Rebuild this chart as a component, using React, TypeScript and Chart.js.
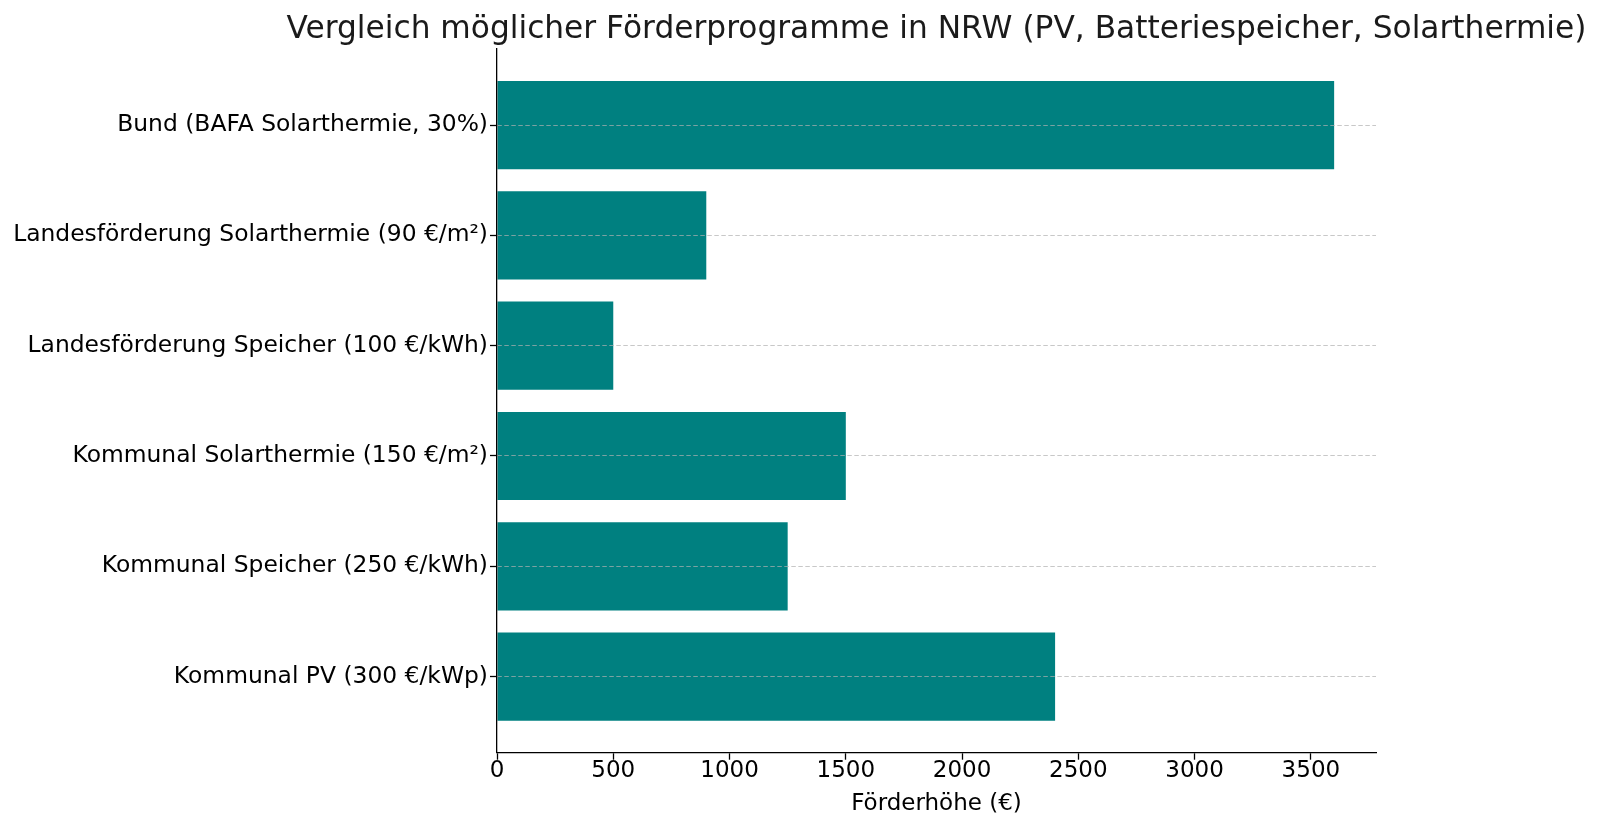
import { useEffect, useRef } from 'react';
import { Chart, registerables } from 'chart.js';

Chart.register(...registerables);

const chartTitle = 'Vergleich möglicher Förderprogramme in NRW (PV, Batteriespeicher, Solarthermie)';
const xAxisTitle = 'Förderhöhe (€)';
const categories = [
  'Bund (BAFA Solarthermie, 30%)',
  'Landesförderung Solarthermie (90 €/m²)',
  'Landesförderung Speicher (100 €/kWh)',
  'Kommunal Solarthermie (150 €/m²)',
  'Kommunal Speicher (250 €/kWh)',
  'Kommunal PV (300 €/kWp)',
];
const amounts = [3600, 900, 500, 1500, 1250, 2400];
const xTicks = [0, 500, 1000, 1500, 2000, 2500, 3000, 3500];
const xMax = 3780;

const FONT = 'DejaVu Sans';

export default function App() {
  const ref = useRef<HTMLCanvasElement>(null);

  useEffect(() => {
    document.body.style.margin = '0';
    Chart.defaults.font.family = FONT;
    const pad = 0.4 + 0.05 * (categories.length - 1 + 0.8);

    const titlePlugin = {
      id: 'mplTitle',
      afterDraw(chart: any) {
        const { ctx, chartArea } = chart;
        ctx.save();
        ctx.font = `31.25px "${FONT}"`;
        ctx.fillStyle = '#1a1a1a';
        ctx.textAlign = 'center';
        ctx.textBaseline = 'alphabetic';
        ctx.fillText(chartTitle, (chartArea.left + chartArea.right) / 2, 38);
        ctx.restore();
      },
    };

    const chart = new Chart(ref.current!, {
      type: 'bar',
      data: {
        datasets: [
          {
            data: amounts.map((v, i) => ({ x: v, y: i })),
            backgroundColor: '#008080',
            borderWidth: 0,
            categoryPercentage: 1,
            barPercentage: 0.8,
          },
        ],
      },
      plugins: [titlePlugin],
      options: {
        indexAxis: 'y',
        animation: false,
        responsive: true,
        maintainAspectRatio: false,
        layout: { padding: { top: 49, right: 224, bottom: 0, left: 0 } },
        plugins: {
          legend: { display: false },
          tooltip: { enabled: false },
          title: { display: false },
        },
        scales: {
          x: {
            type: 'linear',
            min: 0,
            max: xMax,
            offset: false,
            afterBuildTicks: (s: any) => {
              s.ticks = xTicks.map((v) => ({ value: v }));
            },
            afterFit: (s: any) => {
              s.height = 75.3;
            },
            grid: {
              offset: false,
              drawOnChartArea: false,
              drawTicks: true,
              tickLength: 7,
              tickColor: '#000',
              tickWidth: 1.3,
            },
            border: { display: true, color: '#000', width: 1.3 },
            ticks: {
              font: { family: FONT, size: 23 },
              color: '#000',
              padding: -2,
              maxRotation: 0,
              autoSkip: false,
              callback: (v: any) => String(v),
            },
            title: {
              display: true,
              text: xAxisTitle,
              font: { family: FONT, size: 23 },
              color: '#000',
              padding: { top: 0, bottom: 10 },
            },
          },
          y: {
            type: 'linear',
            reverse: true,
            min: -pad,
            max: categories.length - 1 + pad,
            offset: false,
            afterBuildTicks: (s: any) => {
              s.ticks = categories.map((_, i) => ({ value: i }));
            },
            afterFit: (s: any) => {
              s.width = 497;
            },
            grid: {
              z: 1,
              offset: false,
              drawOnChartArea: true,
              color: 'rgba(176,176,176,0.7)',
              lineWidth: 1,
              drawTicks: true,
              tickLength: 7,
              tickColor: '#000',
              tickWidth: 1.3,
              tickBorderDash: [],
            },
            border: { display: true, color: '#000', width: 1.3, dash: [4.5, 2.5], z: 2 },
            ticks: {
              font: { family: FONT, size: 23.4 },
              color: '#000',
              padding: 2,
              autoSkip: false,
              callback: (v: any) => categories[v as number] ?? '',
            },
          },
        },
      },
    } as any);

    return () => chart.destroy();
  }, []);

  return (
    <div style={{ position: 'absolute', left: 0, top: 0, width: 1600, height: 828 }}>
      <canvas ref={ref} />
    </div>
  );
}
